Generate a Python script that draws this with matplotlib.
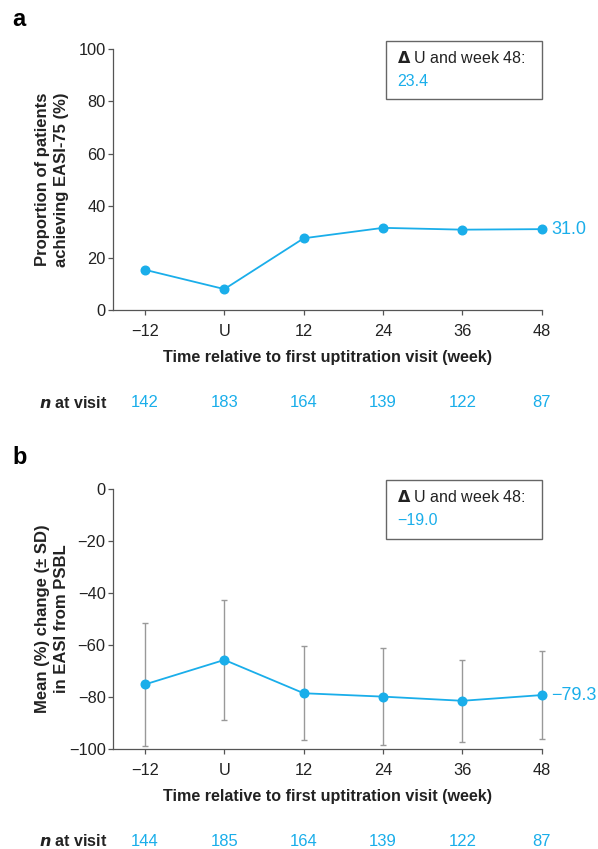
import matplotlib
matplotlib.use("Agg")
import matplotlib.pyplot as plt
from matplotlib.patches import Rectangle
from matplotlib.transforms import blended_transform_factory

plt.rcParams['font.family'] = ['Liberation Sans', 'DejaVu Sans']

# data
visits = ['\u221212', 'U', '12', '24', '36', '48']

easi75_pct = [15.4, 8.0, 27.5, 31.5, 30.8, 31.0]
n_a = [142, 183, 164, 139, 122, 87]
delta_a = '23.4'

easi_change = [-75.2, -65.8, -78.6, -79.9, -81.5, -79.3]
easi_sd = [23.7, 22.9, 18.0, 18.5, 15.8, 16.9]
n_b = [144, 185, 164, 139, 122, 87]
delta_b = '\u221219.0'

BLUE = '#1aaeea'
GREY = '#999999'
DARK = '#222222'

fig = plt.figure(figsize=(5.98, 8.49), dpi=100)
ax_a = fig.add_axes([0.1895, 0.6349, 0.7164, 0.3071])
ax_b = fig.add_axes([0.1895, 0.1178, 0.7164, 0.3068])

x = list(range(len(visits)))


def style_axes(ax, ylim, yticks, ylabel, n_vals, delta_txt):
    ax.set_xlim(-0.4, 5)
    ax.set_ylim(*ylim)
    ax.set_yticks(yticks)
    ax.set_yticklabels([f'{t}'.replace('-', '\u2212') for t in yticks])
    ax.set_xticks(x)
    ax.set_xticklabels(visits)
    for s in ['top', 'right']:
        ax.spines[s].set_visible(False)
    for s in ['left', 'bottom']:
        ax.spines[s].set_color('#555555')
        ax.spines[s].set_linewidth(0.9)
    ax.tick_params(length=3.5, width=0.9, color='#555555', labelsize=11.8,
                   labelcolor=DARK)
    ax.tick_params(axis='x', pad=6.5)
    ax.tick_params(axis='y', pad=2)
    ax.text(-0.143, 0.5, ylabel, transform=ax.transAxes, rotation=90,
            ha='center', va='center', fontsize=12, fontweight='bold',
            color=DARK, linespacing=1.3)
    ax.text(0.5, -0.184, 'Time relative to first uptitration visit (week)',
            transform=ax.transAxes, ha='center', va='center', fontsize=11.6,
            fontweight='bold', color=DARK)
    ax.text(-0.015, -0.355, r'$\mathbfit{n}$ at visit', transform=ax.transAxes,
            ha='right', va='center', fontsize=11.5, fontweight='bold', color=DARK)
    trans = blended_transform_factory(ax.transData, ax.transAxes)
    for xi, n in zip(x, n_vals):
        ax.text(xi, -0.355, f'{n}', transform=trans, ha='center',
                va='center', fontsize=12, color=BLUE)
    # delta box
    ax.add_patch(Rectangle((0.6366, 0.808), 1 - 0.6366, 0.224,
                           transform=ax.transAxes, fill=False,
                           edgecolor='#666666', linewidth=1.0, clip_on=False))
    ax.text(0.662, 0.966, r'$\mathbf{\Delta}$ U and week 48:',
            transform=ax.transAxes, ha='left', va='center', fontsize=11.5,
            color=DARK)
    ax.text(0.662, 0.876, delta_txt, transform=ax.transAxes, ha='left',
            va='center', fontsize=11.5, color=BLUE)


# panel a
ax_a.plot(x, easi75_pct, color=BLUE, lw=1.3, marker='o', ms=6.2, zorder=3,
          clip_on=False)
ax_a.annotate(f'{easi75_pct[-1]:.1f}', xy=(x[-1], easi75_pct[-1]),
              xytext=(7, 0), textcoords='offset points', ha='left',
              va='center', fontsize=13, color=BLUE, annotation_clip=False)
style_axes(ax_a, (0, 100), [0, 20, 40, 60, 80, 100],
           'Proportion of patients\nachieving EASI-75 (%)', n_a, delta_a)

# panel b
eb = ax_b.errorbar(x, easi_change, yerr=easi_sd, fmt='none', ecolor=GREY,
                   elinewidth=1.0, capsize=2.3, capthick=1.0, zorder=2)
for artist in eb.get_children():
    artist.set_clip_on(False)
ax_b.plot(x, easi_change, color=BLUE, lw=1.3, marker='o', ms=6.2, zorder=3,
          clip_on=False)
ax_b.annotate(f'{easi_change[-1]:.1f}'.replace('-', '\u2212'),
              xy=(x[-1], easi_change[-1]), xytext=(7, 0),
              textcoords='offset points', ha='left', va='center',
              fontsize=13, color=BLUE, annotation_clip=False)
style_axes(ax_b, (-100, 0), [-100, -80, -60, -40, -20, 0],
           'Mean (%) change (\u00b1 SD)\nin EASI from PSBL', n_b, delta_b)

fig.text(12 / 598, 1 - 20 / 849, 'a', fontsize=17, fontweight='bold',
         ha='left', va='center', color='black')
fig.text(12 / 598, 1 - 458 / 849, 'b', fontsize=17, fontweight='bold',
         ha='left', va='center', color='black')

fig.savefig('out.png', dpi=100)
